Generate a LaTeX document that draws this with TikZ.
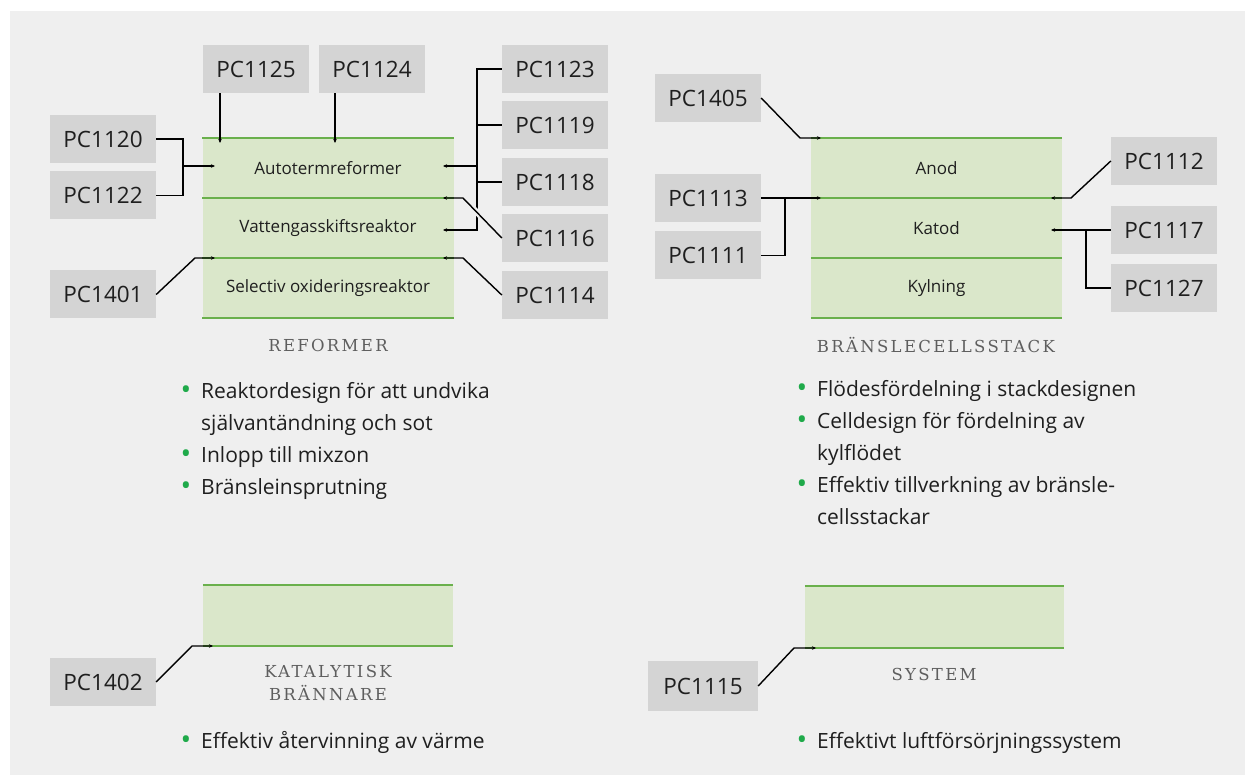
\documentclass[tikz,border=0pt]{standalone}
\usepackage{fontspec}
\setmainfont{Open Sans}
\newfontfamily\slabfont[LetterSpace=14]{DejaVu Serif}
\usetikzlibrary{arrows.meta, calc}

\definecolor{bggray}{HTML}{EFEFEF}
\definecolor{tagfill}{HTML}{D4D4D4}
\definecolor{layerfill}{HTML}{DAE7CA}
\definecolor{rimgreen}{HTML}{6AB04C}
\definecolor{dotgreen}{HTML}{1FAA4A}
\definecolor{titlegray}{HTML}{5E5E5E}
\newcommand{\bul}{\llap{\textcolor{dotgreen}{\raisebox{-1.5pt}{\scalebox{1.35}{\textbullet}}}\hspace{10pt}}}

\begin{document}
\begin{tikzpicture}[x=1pt, y=-1pt, >={Stealth[length=4pt, width=3.5pt]},
  tag/.style={fill=tagfill, minimum width=106pt, minimum height=48pt, inner sep=0pt,
              font=\fontsize{22.5}{27}\selectfont, text=black!88},
  layer/.style={fill=layerfill, minimum width=251pt, minimum height=60pt, inner sep=0pt,
                font=\fontsize{17}{20}\selectfont, text=black!88},
  rim/.style={rimgreen, line width=2pt},
  wire/.style={line width=1.4pt},
  pin/.style={wire, ->},
  caption/.style={font=\slabfont\fontsize{16.5}{23}\selectfont, text=titlegray, align=center},
  items/.style={anchor=base west, align=left, inner sep=0pt, text=black!88,
                font=\fontsize{21}{32}\selectfont}]
  \useasboundingbox (0,0) rectangle (1245,775);
  \fill[white] (0,0) rectangle (1245,775);
  \fill[bggray] (10,11) rectangle (1245,775);

  % Reformer
  \node[layer] (ar) at (328,168) {Autotermreformer};
  \node[layer] (vg) at (328,228) {Vattengasskiftsreaktor};
  \node[layer] (so) at (328,288) {Selectiv oxideringsreaktor};
  \draw[rim] (ar.north west) -- (ar.north east);
  \foreach \r in {ar, vg, so}
    \draw[rim] (\r.south west) -- (\r.south east);
  \node[caption] (capref) at (328,345) {REFORMER};

  \node[tag] (pc1125) at (256,69) {PC1125};
  \node[tag] (pc1124) at (372,69) {PC1124};
  \node[tag] (pc1120) at (103,139) {PC1120};
  \node[tag] (pc1122) at (103,195.5) {PC1122};
  \node[tag] (pc1401) at (103,294.5) {PC1401};
  \node[tag] (pc1123) at (555,69) {PC1123};
  \node[tag] (pc1119) at (555,125) {PC1119};
  \node[tag] (pc1118) at (555,182) {PC1118};
  \node[tag] (pc1116) at (555,238) {PC1116};
  \node[tag] (pc1114) at (555,295) {PC1114};

  \coordinate (arTL) at (220,143);
  \coordinate (arTM) at (335,143);
  \coordinate (arL) at (215,166);
  \coordinate (j20) at (183,166);
  \coordinate (k01) at (195,258);
  \coordinate (soL) at (215,258);
  \coordinate (j23) at (477,230);
  \coordinate (arR) at (443,166);
  \coordinate (vgR) at (443,230);
  \coordinate (k16) at (463,198);
  \coordinate (vgTR) at (443,198);
  \coordinate (k14) at (463,258);
  \coordinate (soR) at (443,258);

  \draw[pin] (pc1125.south -| arTL) -- (arTL);
  \draw[pin] (pc1124.south -| arTM) -- (arTM);
  \draw[wire] (pc1120.east) -| (j20) |- (pc1122.east);
  \draw[pin] (j20) -- (arL);
  \draw[pin] (pc1401.east) -- (k01) -- (soL);

  \draw[pin] (pc1123.west) -| (j23) -- (vgR);
  \draw[wire] (pc1119.west) -- (pc1119.west -| j23);
  \draw[wire] (pc1118.west) -- (pc1118.west -| j23);
  \draw[pin] (arR -| j23) -- (arR);
  % hop where PC1116 crosses the bus
  \begin{scope}
    \clip (475.5,190) rectangle (479.5,225);
    \draw[bggray, line width=6pt] ($(pc1116.west)!0.5!(k16)$) -- ($(pc1116.west)!0.8!(k16)$);
  \end{scope}
  \draw[pin] (pc1116.west) -- (k16) -- (vgTR);
  \draw[pin] (pc1114.west) -- (k14) -- (soR);

  % anchor base = baseline of the last line
  \node[items] (listref) at (201,494) {\bul Reaktordesign för att undvika\\
    självantändning och sot\\ \bul Inlopp till mixzon\\ \bul Bränsleinsprutning};

  % Bränslecellsstack
  \node[layer] (an) at (936.5,168) {Anod};
  \node[layer] (kt) at (936.5,228) {Katod};
  \node[layer] (ky) at (936.5,288) {Kylning};
  \draw[rim] (an.north west) -- (an.north east);
  \foreach \r in {an, kt, ky}
    \draw[rim] (\r.south west) -- (\r.south east);
  \node[caption] (capstack) at (936,345) {BRÄNSLECELLSSTACK};

  \node[tag] (pc1405) at (708,98) {PC1405};
  \node[tag] (pc1113) at (708,198) {PC1113};
  \node[tag] (pc1111) at (708,255.5) {PC1111};
  \node[tag] (pc1112) at (1164,161) {PC1112};
  \node[tag] (pc1117) at (1164,230) {PC1117};
  \node[tag] (pc1127) at (1164,288) {PC1127};

  \coordinate (k05) at (800,138);
  \coordinate (anL) at (821,138);
  \coordinate (ktL) at (821,198);
  \coordinate (j13) at (785,198);
  \coordinate (k12) at (1071,198);
  \coordinate (ktR) at (1051,198);
  \coordinate (ktM) at (1051,230);
  \coordinate (j17) at (1086,230);

  \draw[pin] (pc1405.east) -- (k05) -- (anL);
  \draw[pin] (pc1113.east) -- (ktL);
  \draw[wire] (pc1111.east) -| (j13);
  \draw[pin] (pc1112.west) -- (k12) -- (ktR);
  \draw[pin] (pc1117.west) -- (ktM);
  \draw[wire] (pc1127.west) -| (j17);

  \node[items] (liststack) at (817,524) {\bul Flödesfördelning i stackdesignen\\
    \bul Celldesign för fördelning av\\ kylflödet\\
    \bul Effektiv tillverkning av bränsle-\\ cellsstackar};

  % Katalytisk brännare
  \node[layer, minimum width=250pt, minimum height=61pt] (kb) at (328,615.5) {};
  \draw[rim] (kb.north west) -- (kb.north east);
  \draw[rim] (kb.south west) -- (kb.south east);
  \node[caption] (capkb) at (328,682.5) {KATALYTISK\\BRÄNNARE};
  \node[tag] (pc1402) at (103,682) {PC1402};
  \coordinate (k02) at (192,646);
  \coordinate (kbL) at (213,646);
  \draw[pin] (pc1402.east) -- (k02) -- (kbL);
  \node[items] (listkb) at (201,748) {\bul Effektiv återvinning av värme};

  % System
  \node[layer, minimum width=259pt, minimum height=62pt] (sy) at (934.5,617) {};
  \draw[rim] (sy.north west) -- (sy.north east);
  \draw[rim] (sy.south west) -- (sy.south east);
  \node[caption] (capsys) at (934,674) {SYSTEM};
  \node[tag, minimum width=110pt, minimum height=50pt] (pc1115) at (703,686) {PC1115};
  \coordinate (k15) at (794,648);
  \coordinate (syL) at (816,648);
  \draw[pin] (pc1115.east) -- (k15) -- (syL);
  \node[items] (listsys) at (817,748) {\bul Effektivt luftförsörjningssystem};
\end{tikzpicture}
\end{document}
